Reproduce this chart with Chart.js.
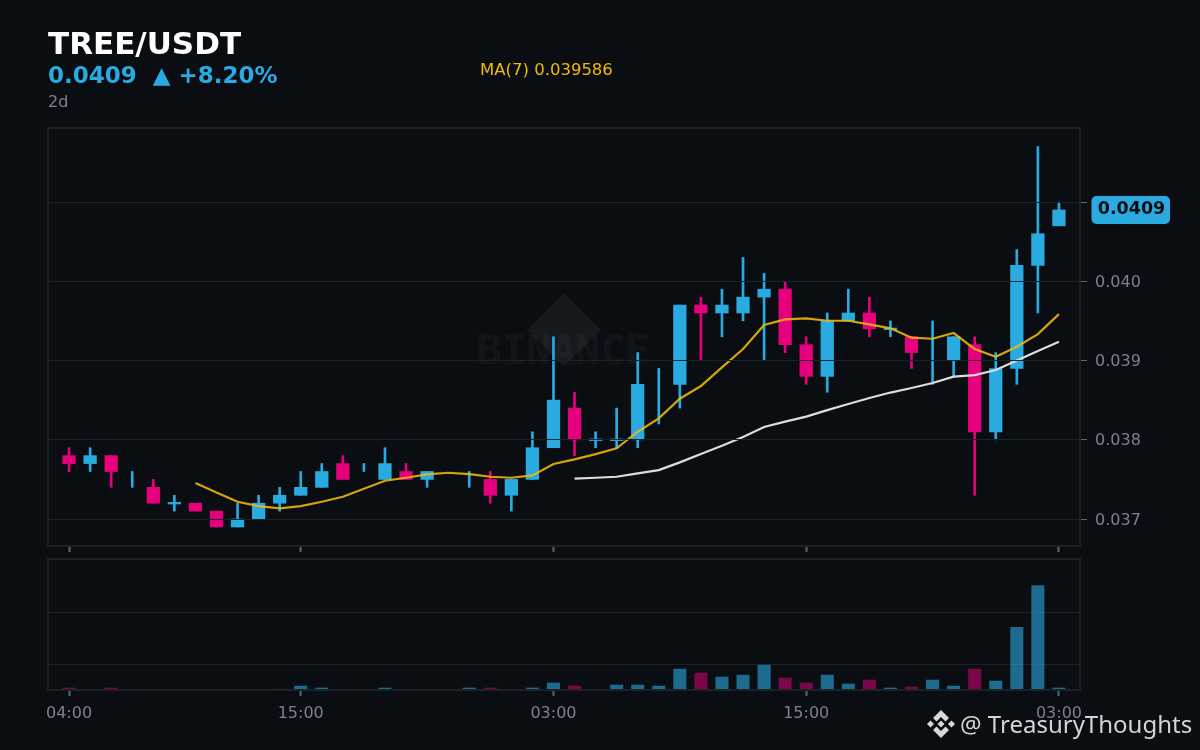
<!DOCTYPE html>
<html>
<head>
<meta charset="utf-8">
<script src="https://cdn.jsdelivr.net/npm/chart.js@4"></script>
<style>
html,body{margin:0;padding:0;background:#0a0e12;width:1200px;height:750px;overflow:hidden;font-family:"DejaVu Sans",sans-serif}
canvas{position:absolute;left:0;top:0}
.t{position:absolute;white-space:pre;line-height:1}
#wmk{position:absolute;left:477px;top:330px;font:bold 41px "DejaVu Sans Mono",monospace;color:rgba(255,255,255,.05);line-height:1}
#dia{position:absolute;left:538px;top:304px;width:52px;height:52px;background:rgba(255,255,255,.05);transform:rotate(45deg)}
</style>
</head>
<body>
<div id="dia"></div>
<div id="wmk">BINANCE</div>
<canvas id="price" width="1200" height="750"></canvas>
<canvas id="vol" width="1200" height="750"></canvas>
<div class="t" style="left:48px;top:28px;font-size:31px;font-weight:bold;color:#fff">TREE/USDT</div>
<div class="t" style="left:48px;top:64px;font-size:23px;font-weight:bold;color:#29abe2">0.0409  ▲ +8.20%</div>
<div class="t" style="left:48px;top:94px;font-size:16px;color:#7a828c">2d</div>
<div class="t" style="left:480px;top:62px;font-size:16.5px;color:#f0b90b">MA(7) 0.039586</div>
<svg style="position:absolute;left:926px;top:709px" width="30" height="30" viewBox="0 0 30 30" fill="#d8d8d8">
<path d="M15 1L23 9 19.5 12.5 15 8 10.5 12.5 7 9z"/><path d="M15 29L23 21 19.5 17.5 15 22 10.5 17.5 7 21z"/><path d="M1 15l3.5-3.5 3.5 3.5-3.5 3.5z"/><path d="M22 15l3.5-3.5 3.5 3.5-3.5 3.5z"/><path d="M15 11.5l3.5 3.5-3.5 3.5-3.5-3.5z"/>
</svg>
<div class="t" style="left:960px;top:707px;font:24px 'Noto Sans',sans-serif;color:#d4d4d4">@ TreasuryThoughts</div>
<script>
const timeLabels = {0:'04:00',11:'15:00',23:'03:00',35:'15:00',47:'03:00'};
const priceTicks = [0.037,0.038,0.039,0.040,0.041];
const volumeTicks = [0.5,1.5];
const lastPrice = 0.0409;
const opens = [.0378,.0377,.0378,.0376,.0374,.03721,.0372,.0371,.0369,.0370,.0372,.0373,.0374,.0377,.0377,.0375,.0376,.0375,null,.0376,.0375,.0373,.0375,.0379,.0384,.03801,.03801,.0380,.0389,.0387,.0397,.0396,.0396,.0398,.0399,.0392,.0388,.0395,.0396,.03941,.0393,.0395,.0390,.0392,.0381,.0389,.0402,.0407];
const closes = [.0377,.0378,.0376,.0376,.0372,.03719,.0371,.0369,.0370,.0372,.0373,.0374,.0376,.0375,.0377,.0377,.0375,.0376,null,.0376,.0373,.0375,.0379,.0385,.0380,.03799,.03799,.0387,.0389,.0397,.0396,.0397,.0398,.0399,.0392,.0388,.0395,.0396,.0394,.03939,.0391,.0395,.0393,.0381,.0389,.0402,.0406,.0409];
const highs = [.0379,.0379,.0378,.0376,.0375,.0373,.0372,.0371,.0372,.0373,.0374,.0376,.0377,.0378,.0377,.0379,.0377,.0376,null,.0376,.0376,.0375,.0381,.0393,.0386,.0381,.0384,.0391,.0389,.0397,.0398,.0399,.0403,.0401,.0400,.0393,.0396,.0399,.0398,.0395,.0393,.0395,.0393,.0393,.0391,.0404,.0417,.0410];
const lows = [.0376,.0376,.0374,.0374,.0372,.0371,.0371,.0369,.0369,.0370,.0371,.0373,.0374,.0375,.0376,.0375,.0375,.0374,null,.0374,.0372,.0371,.0375,.0379,.0378,.0379,.0379,.0379,.0382,.0384,.0390,.0393,.0395,.0390,.0391,.0387,.0386,.0395,.0393,.0393,.0389,.0387,.0388,.0373,.0380,.0387,.0396,.0407];
const ma7 = [null,null,null,null,null,null,.037454,.037334,.037218,.037164,.037135,.037164,.037218,.037281,.037382,.037483,.037521,.037564,.037584,.037568,.037534,.037521,.037551,.037694,.037753,.037820,.037892,.038102,.038271,.038518,.038678,.038914,.039145,.039448,.039520,.039533,.039502,.039502,.039457,.039406,.039288,.039275,.039347,.039145,.039048,.039174,.039334,.039586];
const ma25 = [null,null,null,null,null,null,null,null,null,null,null,null,null,null,null,null,null,null,null,null,null,null,null,null,.037509,.037521,.037534,.037577,.037618,.037715,.037820,.037925,.038035,.038161,.038230,.038293,.038375,.038451,.038527,.038596,.038653,.038716,.038796,.038817,.038880,.039000,.039120,.039237];
const volumes = [.038,.012,.038,.012,.012,.006,.006,.012,.012,.012,.015,.077,.038,.012,.012,.038,.006,.008,0,.038,.038,.008,.038,.135,.077,.012,.096,.096,.077,.404,.327,.25,.288,.481,.231,.135,.288,.115,.192,.038,.058,.192,.077,.404,.173,1.212,2.019,.038];
const upFlags = [0,1,0,1,0,1,0,0,1,1,1,1,1,0,1,1,0,1,1,1,0,1,1,1,0,1,1,1,1,1,0,1,1,1,0,0,1,1,0,1,0,1,1,0,1,1,1,1];

const BG='#0a0e12', UP='#29abe2', DOWN='#e6007e', UPV='rgba(41,171,226,.6)', DOWNV='rgba(230,0,126,.52)';
const GRID='#1c2126', FRAME='#1c2126', TEXT='#7a828c', TICK='#5f6670';
const idx = opens.map((_,i)=>i);
const colors = upFlags.map(u=>u?UP:DOWN);
const frame = {id:'frame',afterDraw(c){const a=c.chartArea,x=c.ctx;x.save();x.strokeStyle=FRAME;x.lineWidth=2;x.strokeRect(a.left,a.top,a.right-a.left,a.bottom-a.top);x.restore();}};
const panelFill = {id:'panelFill',beforeDraw(c){const a=c.chartArea,x=c.ctx;x.save();x.fillStyle=BG;x.fillRect(a.left,a.top,a.right-a.left,a.bottom-a.top);x.restore();}};
const badge = {id:'badge',afterDraw(c){const y=c.scales.y.getPixelForValue(lastPrice),x=c.ctx;x.save();x.fillStyle=UP;x.beginPath();x.roundRect(1091.5,y-14,78.5,28,5);x.fill();x.fillStyle=BG;x.font='bold 17.5px "DejaVu Sans"';x.textAlign='center';x.textBaseline='middle';x.fillText(lastPrice.toFixed(4),1131.5,y);x.restore();}};
const xScale = (fitHeight,pad)=>({type:'linear',min:-1,max:48,offset:false,
  afterBuildTicks(s){s.ticks=Object.keys(timeLabels).map(k=>({value:+k}));},
  afterFit(s){s.height=fitHeight;},
  border:{display:false},
  grid:{offset:false,drawOnChartArea:false,tickColor:TICK,tickWidth:2,tickLength:6},
  ticks:{display:true,autoSkip:false,maxRotation:0,color:TEXT,font:{family:'DejaVu Sans',size:16},padding:pad,callback:v=>timeLabels[v]||''}});

new Chart(document.getElementById('price'),{
  type:'bar',plugins:[frame,badge],
  data:{datasets:[
    {type:'line',data:idx.map(i=>({x:i,y:ma25[i]})),borderColor:'#dcdcdc',borderWidth:2.2,pointRadius:0,tension:0,order:1},
    {type:'line',data:idx.map(i=>({x:i,y:ma7[i]})),borderColor:'rgba(240,185,11,.88)',borderWidth:2.2,pointRadius:0,tension:0,order:0},
    {data:idx.map(i=>({x:i,y:(opens[i]===null||opens[i]===closes[i])?null:[opens[i],closes[i]]})),backgroundColor:colors,barThickness:12.6,maxBarThickness:12.6,grouped:false,order:2},
    {data:idx.map(i=>({x:i,y:highs[i]===null?null:[lows[i],highs[i]]})),backgroundColor:colors,barThickness:2,maxBarThickness:2,grouped:false,order:3}
  ]},
  options:{responsive:false,animation:false,devicePixelRatio:1,
    layout:{padding:{left:48,top:128,right:0,bottom:194}},
    plugins:{legend:{display:false},tooltip:{enabled:false}},
    datasets:{bar:{barPercentage:1,categoryPercentage:1}},
    scales:{
      x:xScale(10,8),
      y:{position:'right',min:0.03666,max:0.041934,
        afterBuildTicks(s){s.ticks=priceTicks.map(v=>({value:v}));},
        afterFit(s){s.width=120;},
        border:{display:false},
        grid:{offset:false,color:GRID,lineWidth:1,z:1,tickColor:TICK,tickLength:7},
        ticks:{color:TEXT,font:{family:'DejaVu Sans',size:16},padding:8,labelOffset:1.5,callback:v=>Math.abs(v-0.041)<1e-6?'':v.toFixed(3)}}
    }}
});

new Chart(document.getElementById('vol'),{
  type:'bar',plugins:[panelFill,frame],
  data:{datasets:[{data:idx.map(i=>({x:i,y:volumes[i]})),backgroundColor:upFlags.map(u=>u?UPV:DOWNV),barThickness:12.4,maxBarThickness:12.4,grouped:false}]},
  options:{responsive:false,animation:false,devicePixelRatio:1,
    layout:{padding:{left:48,top:559,right:0,bottom:20}},
    plugins:{legend:{display:false},tooltip:{enabled:false}},
    datasets:{bar:{barPercentage:1,categoryPercentage:1}},
    scales:{
      x:xScale(40,8),
      y:{position:'right',min:0,max:2.53,
        afterBuildTicks(s){s.ticks=volumeTicks.map(v=>({value:v}));},
        afterFit(s){s.width=120;},
        border:{display:false},
        grid:{offset:false,color:GRID,lineWidth:1,drawTicks:false},
        ticks:{display:false}}
    }}
});
</script>
</body>
</html>
